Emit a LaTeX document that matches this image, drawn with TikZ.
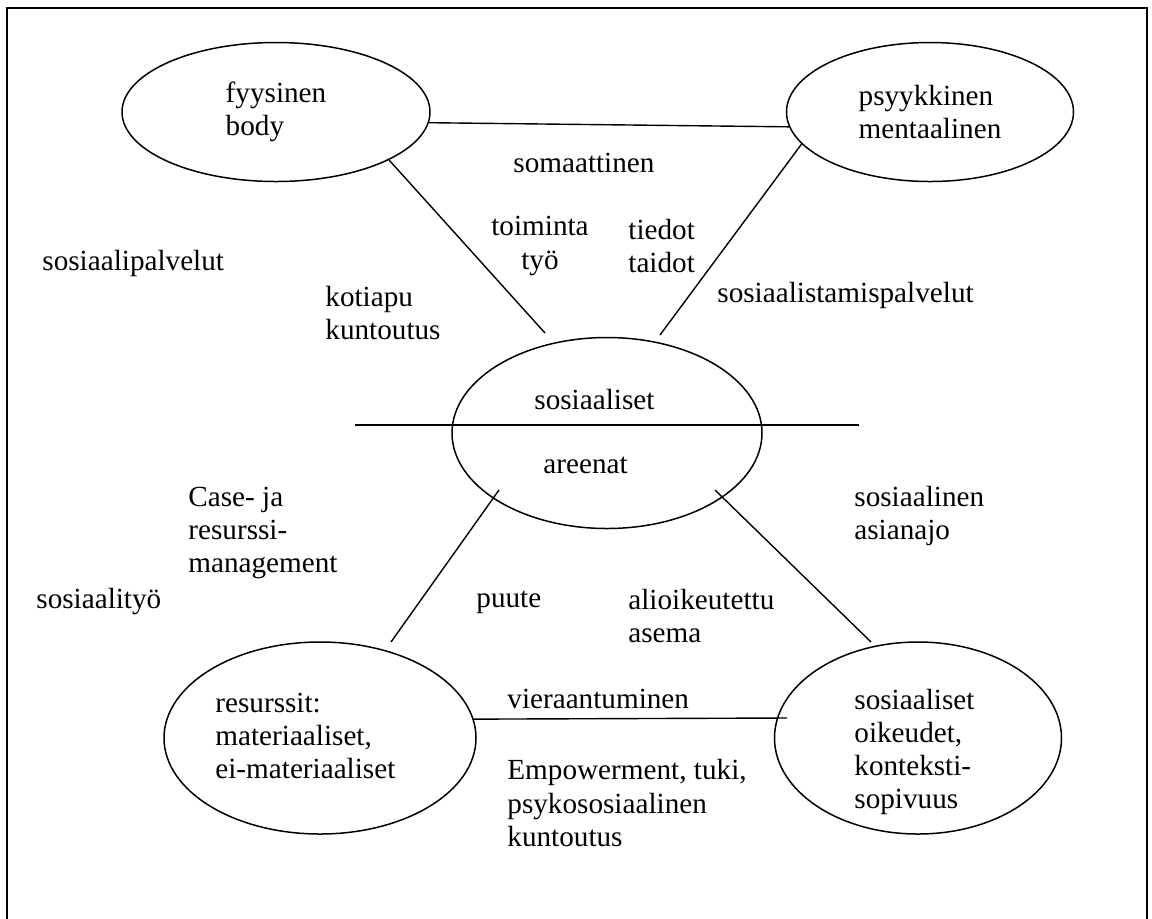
\documentclass[tikz,border=0pt]{standalone}
\usepackage{fontspec}
\setmainfont{Liberation Serif}
\usetikzlibrary{shapes.geometric}
\tikzset{
	blob/.style={draw, ellipse, line width=0.75pt, inner sep=0pt, align=left},
	lbl/.style={anchor=west, align=left, inner sep=0pt},
	link/.style={line width=0.7pt}
}
\begin{document}
\begin{tikzpicture}[x=0.5pt, y=-0.5pt, font=\fontsize{14.6}{16.6}\selectfont]
		\clip (0,0) rectangle (1152,918);
		\draw [line width=0.8pt] (7,8) rectangle (1147,940);
		% spheres
		\node [blob, minimum width=154pt, minimum height=69.5pt] (fys) at (276,112) {fyysinen\\body};
		\node [blob, minimum width=143.5pt, minimum height=69.5pt] (psy) at (930,112) {psyykkinen\\mentaalinen};
		\node [blob, minimum width=155pt, minimum height=95.5pt] (are) at (607,433) {};
		\node [blob, minimum width=156pt, minimum height=96pt] (res) at (320,738) {};
		\node [blob, minimum width=143.5pt, minimum height=96pt] (oik) at (918,738) {};
		\node [lbl] (sos) at (534,399) {sosiaaliset};
		\node [lbl] (aren) at (543,465) {areenat};
		\node [lbl] (rest) at (215,736) {resurssit:\\materiaaliset,\\ei-materiaaliset};
		\node [lbl] (oikt) at (854,752) {sosiaaliset\\oikeudet,\\konteksti-\\sopivuus};
		% free ends
		\coordinate (c1) at (545,333);
		\coordinate (c2) at (660,335);
		\coordinate (c3) at (499,490);
		\coordinate (c4) at (391,642);
		\coordinate (c5) at (715,490);
		\coordinate (c6) at (871,642);
		\coordinate (c7) at (787,718);
		\coordinate (c8) at (355,425);
		\coordinate (c9) at (859,425);
		\draw [link] (fys.-4) -- (psy.186);
		\draw [link] (fys.-23) -- (c1);
		\draw [link] (psy.194) -- (c2);
		\draw [link] (c3) -- (c4);
		\draw [link] (c5) -- (c6);
		\draw [link] (res.7) -- (c7);
		\draw [link] (c8) -- (c9);
		% labels
		\node [lbl] (soma) at (513,163) {somaattinen};
		\node [align=center, inner sep=0pt] (toim) at (540,246) {toiminta\\työ};
		\node [lbl] (tied) at (628,246) {tiedot\\taidot};
		\node [lbl] (spal) at (42,263) {sosiaalipalvelut};
		\node [lbl] (koti) at (325,313) {kotiapu\\kuntoutus};
		\node [lbl] (stam) at (717,295) {sosiaalistamispalvelut};
		\node [lbl] (case) at (188,533) {Case- ja\\resurssi-\\management};
		\node [lbl] (asia) at (854,516) {sosiaalinen\\asianajo};
		\node [lbl] (styo) at (36,602) {sosiaalityö};
		\node [lbl] (puut) at (476,602) {puute};
		\node [lbl] (alio) at (628,616) {alioikeutettu\\asema};
		\node [lbl] (vier) at (507,699) {vieraantuminen};
		\node [lbl] (empo) at (507,803) {Empowerment, tuki,\\psykososiaalinen\\kuntoutus};
	\end{tikzpicture}
\end{document}
